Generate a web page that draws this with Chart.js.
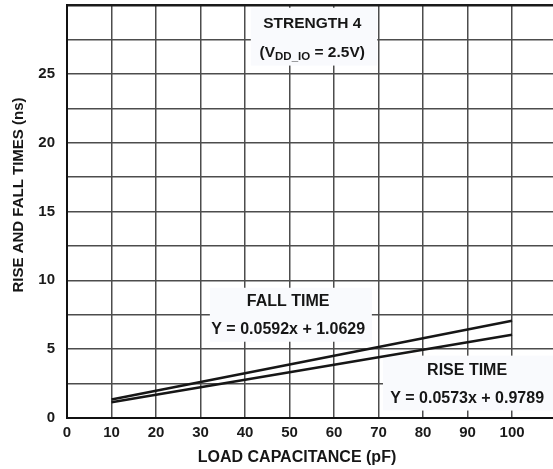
<!DOCTYPE html>
<html><head><meta charset="utf-8">
<script src="https://cdn.jsdelivr.net/npm/chart.js@4.4.0/dist/chart.umd.min.js"></script>
<style>html,body{margin:0;padding:0;background:#fff}#wrap{width:553px;height:469px}</style>
</head><body><div id="wrap"><canvas id="c" width="553" height="469"></canvas></div>
<script>
// ---- data ----
const loadCapacitance = [10, 100];          // pF
const fallTime = [1.35, 7.07];              // ns
const riseTime = [1.15, 6.05];              // ns
const xTickValues = [0, 10, 20, 30, 40, 50, 60, 70, 80, 90, 100];
const yGridValues = [0, 2.5, 5, 7.5, 10, 12.5, 15, 17.5, 20, 22.5, 25, 27.5, 30];
const yTickLabels = [0, 5, 10, 15, 20, 25];
const xTitle = 'LOAD CAPACITANCE (pF)';
const yTitle = 'RISE AND FALL TIMES (ns)';
const noteStrength = 'STRENGTH 4';
const noteSupply = ['(V', 'DD_IO', ' = 2.5V)'];
const noteFall = ['FALL TIME', 'Y = 0.0592x + 1.0629'];
const noteRise = ['RISE TIME', 'Y = 0.0573x + 0.9789'];

const FONT = '"Liberation Sans", Arial, Helvetica, sans-serif';

const annotations = {
  id: 'annotations',
  beforeDatasetsDraw(chart) {
    const ctx = chart.ctx, xs = chart.scales.x, ys = chart.scales.y;
    const X = v => xs.getPixelForValue(v), Y = v => ys.getPixelForValue(v);
    const boxes = [
      {x0: 41.3, x1: 69.7, y0: 25.6, y1: 29.8},
      {x0: 32.1, x1: 68.5, y0: 5.54, y1: 9.46},
      {x0: 71.0, x1: 112, y0: 0.54, y1: 4.53}
    ];
    ctx.save();
    ctx.fillStyle = '#f9fafd';
    boxes.forEach(b => ctx.fillRect(X(b.x0), Y(b.y1), X(b.x1) - X(b.x0), Y(b.y0) - Y(b.y1)));
    ctx.fillStyle = '#161616';
    ctx.textBaseline = 'middle';
    ctx.textAlign = 'center';
    const big = 'bold 15.5px ' + FONT, small = 'bold 11.5px ' + FONT;
    ctx.font = big;
    ctx.fillText(noteStrength, X(55.1), Y(28.66));
    const w1 = ctx.measureText(noteSupply[0]).width, w3 = ctx.measureText(noteSupply[2]).width;
    ctx.font = small; const w2 = ctx.measureText(noteSupply[1]).width;
    let sx = X(55.1) - (w1 + w2 + w3) / 2, sy = Y(26.56);
    ctx.textAlign = 'left';
    ctx.font = big; ctx.fillText(noteSupply[0], sx, sy);
    ctx.font = small; ctx.fillText(noteSupply[1], sx + w1, sy + 4);
    ctx.font = big; ctx.fillText(noteSupply[2], sx + w1 + w2, sy);
    ctx.textAlign = 'center';
    ctx.font = 'bold 16px ' + FONT;
    ctx.fillText(noteFall[0], X(49.7), Y(8.44));
    ctx.fillText(noteFall[1], X(49.7), Y(6.41));
    ctx.fillText(noteRise[0], X(89.9), Y(3.44));
    ctx.fillText(noteRise[1], X(89.9), Y(1.41));
    ctx.restore();
  },
  afterDraw(chart) {
    const ctx = chart.ctx;
    ctx.save();
    ctx.fillStyle = '#161616';
    ctx.textAlign = 'center';
    ctx.textBaseline = 'middle';
    ctx.font = 'bold 16px ' + FONT;
    ctx.fillText(xTitle, 297, 458);
    ctx.font = 'bold 15px ' + FONT;
    ctx.translate(18.5, 195);
    ctx.rotate(-Math.PI / 2);
    ctx.fillText(yTitle, 0, 0);
    ctx.restore();
  }
};

new Chart(document.getElementById('c'), {
  type: 'line',
  data: {
    datasets: [
      {label: 'Fall time', data: loadCapacitance.map((x, i) => ({x, y: fallTime[i]})),
       borderColor: '#161616', borderWidth: 2.5, pointRadius: 0, fill: false},
      {label: 'Rise time', data: loadCapacitance.map((x, i) => ({x, y: riseTime[i]})),
       borderColor: '#161616', borderWidth: 2.5, pointRadius: 0, fill: false}
    ]
  },
  options: {
    responsive: false,
    animation: false,
    devicePixelRatio: 1,
    layout: {padding: {top: 5, right: 0, left: 0, bottom: 0}},
    plugins: {legend: {display: false}, tooltip: {enabled: false}},
    scales: {
      x: {
        type: 'linear', min: 0, max: 109.2,
        afterBuildTicks: s => { s.ticks = xTickValues.map(v => ({value: v})); },
        afterFit: s => { s.height = 51; s.paddingLeft = 0; s.paddingRight = 0; },
        ticks: {color: '#1a1a1a', font: {family: FONT, size: 15, weight: 'bold'}, padding: 6, maxRotation: 0, autoSkip: false},
        grid: {color: '#4d4d4d', lineWidth: 1.5, drawTicks: false},
        border: {color: '#111', width: 2}
      },
      y: {
        min: 0, max: 30,
        afterBuildTicks: s => { s.ticks = yGridValues.map(v => ({value: v})); },
        afterFit: s => { s.width = 67; s.paddingTop = 0; s.paddingBottom = 0; },
        ticks: {color: '#1a1a1a', font: {family: FONT, size: 15, weight: 'bold'}, padding: 12, autoSkip: false,
                callback: v => yTickLabels.includes(v) ? String(v) : ''},
        grid: {color: c => c.tick && c.tick.value === 30 ? '#1a1a1a' : '#4d4d4d',
               lineWidth: c => c.tick && c.tick.value === 30 ? 2.5 : 1.5, drawTicks: false},
        border: {color: '#111', width: 2}
      }
    }
  },
  plugins: [annotations]
});
</script></body></html>
